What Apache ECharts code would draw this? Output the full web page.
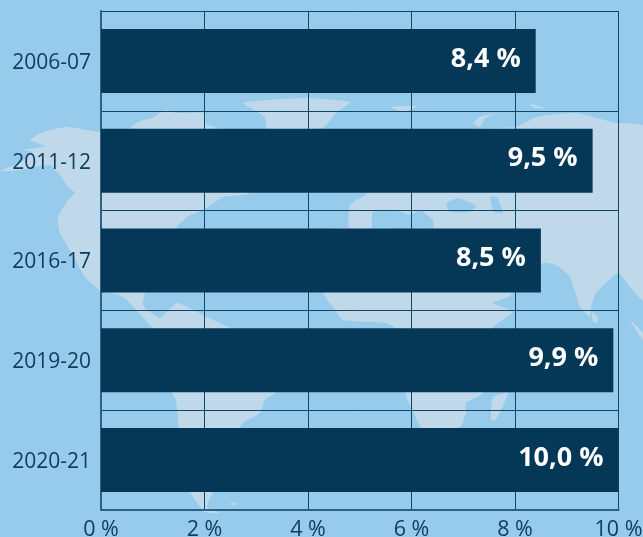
<!DOCTYPE html>
<html><head><meta charset="utf-8">
<style>html,body{margin:0;padding:0;background:#96cbeb;overflow:hidden}#c{width:643px;height:537px}</style>
<script src="https://cdn.jsdelivr.net/npm/echarts@6/dist/echarts.min.js"></script>
</head><body><div id="c"></div>
<script>
const periods = ['2006-07','2011-12','2016-17','2019-20','2020-21'];
const shares = [8.4,9.5,8.5,9.9,10.0];
const axisTicks = [0,2,4,6,8,10];

// Decorative world-map backdrop (not data)
const LAND='#c0d9ea', SEA='#96cbeb';
const land=[
 [[0,171],[20,163],[33,152],[23,150],[45,146],[30,140],[43,132],[67,127],[100,132],[130,130],[225,132],[262,150],[250,193],[223,197],[203,210],[190,215],[177,227],[172,262],[150,280],[145,293],[143,305],[150,312],[160,318],[177,303],[207,317],[230,328],[262,345],[290,370],[275,393],[265,400],[260,413],[243,423],[232,445],[213,492],[207,507],[220,513],[205,512],[190,492],[180,440],[176,400],[172,393],[160,340],[150,325],[123,297],[100,290],[85,277],[70,250],[60,233],[58,217],[68,200],[75,193],[68,187],[62,178],[50,165],[20,170]],
 [[130,128],[140,121],[152,118],[165,110],[178,113],[205,113],[206,124],[222,130],[130,131]],
 [[243,103],[267,100],[307,98],[350,102],[336,113],[323,128],[267,130],[265,117]],
 [[391,107],[418,106],[403,112]],
 [[530,104],[546,108],[535,108]],
 [[473,123],[480,117],[497,113],[485,118],[480,127]],
 [[516,127],[536,117],[576,113],[616,123],[643,126],[643,300],[630,287],[618,273],[596,293],[591,307],[590,317],[580,307],[570,277],[556,265],[543,263],[513,293],[508,297],[491,302],[485,270],[440,232],[350,229],[350,205],[365,195],[420,140],[470,129]],
 [[333,229],[440,229],[490,293],[493,303],[513,312],[490,330],[483,393],[466,403],[466,413],[460,427],[423,429],[405,393],[395,328],[386,323],[343,320],[333,307],[323,293],[322,250]],
 [[508,393],[496,420],[491,420],[493,397]],
 [[593,312],[598,318],[596,323],[592,320]],
 [[630,320],[643,333],[643,340]],
 [[229,504],[236,502],[234,505]]
];
const sea=[
 [[373,212],[395,210],[410,215],[420,210],[433,220],[433,228],[373,228]],
 [[446,204],[458,198],[476,206],[470,212],[450,212]],
 [[490,197],[497,197],[503,213],[494,212]]
];
const poly=(pts,fill)=>({type:'polygon',silent:true,z:-10,shape:{points:pts,smooth:0.15},style:{fill:fill}});

const chart=echarts.init(document.getElementById('c'),null,{renderer:'canvas'});
const INK='#0d3f60';
chart.setOption({
 animation:false,
 backgroundColor:SEA,
 graphic:{elements:[...land.map(p=>poly(p,LAND)),...sea.map(p=>poly(p,SEA))]},
 grid:{left:101,top:11,width:517.5,height:499,containLabel:false,outerBoundsMode:'none'},
 xAxis:{type:'value',min:axisTicks[0],max:axisTicks[axisTicks.length-1],interval:2,
  axisLine:{show:true,lineStyle:{color:'#2a6184',width:2}},axisTick:{show:false},
  splitLine:{show:true,lineStyle:{color:'#0f4565',width:1}},
  axisLabel:{formatter:'{value} %',color:INK,fontFamily:'Open Sans',fontSize:21.5,margin:9}},
 yAxis:{type:'category',inverse:true,data:periods,
  axisLine:{show:true,onZero:false,lineStyle:{color:'#2a6184',width:2}},axisTick:{show:false},
  splitLine:{show:true,interval:0,lineStyle:{color:'#0f4565',width:1}},
  axisLabel:{margin:10,formatter:v=>'{p|'+v+'}',
   rich:{p:{color:INK,fontFamily:'Open Sans',fontSize:21,padding:[4,0,0,0]}}}},
 series:[{type:'bar',data:shares,barWidth:64,itemStyle:{color:'#053857'},
  label:{show:true,position:'insideRight',distance:15,offset:[0,-2],color:'#fff',fontFamily:'Open Sans',fontWeight:'bold',fontSize:27,
   formatter:p=>p.value.toFixed(1).replace('.',',')+' %'}}]
});
</script></body></html>
